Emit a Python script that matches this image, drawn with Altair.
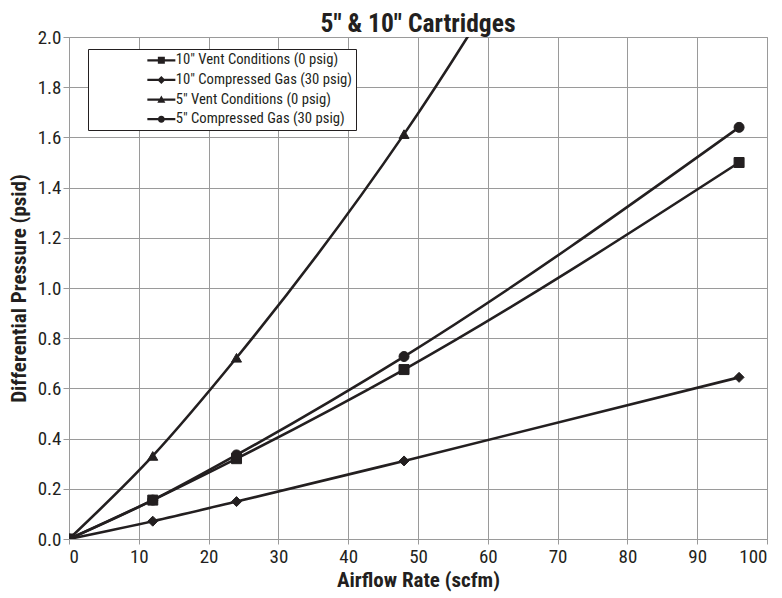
import altair as alt
import pandas as pd

# ---- data ----
series_names = [
    '10" Vent Conditions (0 psig)',
    '10" Compressed Gas (30 psig)',
    '5" Vent Conditions (0 psig)',
    '5" Compressed Gas (30 psig)',
]
airflow = [0, 12, 24, 48, 96]
vent_10 = [0.0, 0.155, 0.32, 0.675, 1.50]
comp_10 = [0.0, 0.071, 0.149, 0.311, 0.644]
vent_5 = [0.0, 0.331, 0.722, 1.613, 3.9]
comp_5 = [0.0, 0.155, 0.335, 0.727, 1.64]

x_ticks = [0, 10, 20, 30, 40, 50, 60, 70, 80, 90, 100]
y_ticks = [0.0, 0.2, 0.4, 0.6, 0.8, 1.0, 1.2, 1.4, 1.6, 1.8, 2.0]

marker_shapes = ["square", "diamond", "triangle-up", "circle"]
BAR = "M-4,-0.33H4V0.33H-4Z"
legend_shapes = [
    BAR + "M-1,-1H1V1H-1Z",
    BAR + "M-1.15,0L0,-1.15L1.15,0L0,1.15Z",
    BAR + "M-1.15,0.9L0,-1.15L1.15,0.9Z",
    BAR + "M-1,0A1,1 0 1,1 1,0A1,1 0 1,1 -1,0Z",
]

rows = []
for name, vals in zip(series_names, [vent_10, comp_10, vent_5, comp_5]):
    for xv, yv in zip(airflow, vals):
        rows.append({"series": name, "airflow": xv, "dp": yv})
df = pd.DataFrame(rows)

INK = "#231f20"
GRID = "#9a9a9a"
FONT = "Roboto Condensed, Liberation Sans Narrow, DejaVu Sans Condensed, Roboto, sans-serif"

x_enc = alt.X(
    "airflow:Q",
    scale=alt.Scale(domain=[0, 100], nice=False),
    axis=alt.Axis(
        values=x_ticks,
        title="Airflow Rate (scfm)",
        tickSize=5,
        labelPadding=3,
        titlePadding=3,
    ),
)
y_enc = alt.Y(
    "dp:Q",
    scale=alt.Scale(domain=[0, 2.0], nice=False),
    axis=alt.Axis(
        values=y_ticks,
        format=".1f",
        title="Differential Pressure (psid)",
        tickSize=6,
        labelPadding=2,
        titlePadding=8,
    ),
)

base = alt.Chart(df)

lines = base.mark_line(
    color=INK, strokeWidth=2.6, interpolate="monotone", clip=True
).encode(x=x_enc, y=y_enc, detail="series:N")

points = base.mark_point(
    filled=True, fill=INK, stroke=INK, strokeWidth=1, opacity=1, size=100, clip=True
).encode(
    x=x_enc,
    y=y_enc,
    shape=alt.Shape(
        "series:N",
        scale=alt.Scale(domain=series_names, range=marker_shapes),
        legend=None,
    ),
)

legend_layer = base.mark_point(
    filled=True, fill=INK, opacity=0, clip=True
).encode(
    x=x_enc,
    y=y_enc,
    shape=alt.Shape(
        "series:N",
        scale=alt.Scale(domain=series_names, range=legend_shapes),
        legend=alt.Legend(
            title=None,
            orient="none",
            legendX=19,
            legendY=12,
            padding=4,
            strokeColor=INK,
            fillColor="white",
            symbolSize=49,
            symbolOpacity=1,
            symbolFillColor=INK,
            symbolStrokeWidth=0,
            symbolOffset=62,
            labelOffset=7,
            labelFont=FONT,
            labelFontSize=14.7,
            labelColor=INK,
            rowPadding=3.6,
            labelLimit=400,
        ),
    ),
)

chart = (
    alt.layer(lines, points, legend_layer)
    .resolve_scale(shape="independent")
    .properties(
        width=698,
        height=502,
        autosize=alt.AutoSizeParams(type="none"),
        padding={"left": 61, "top": 29, "right": 7, "bottom": 55},
        title=alt.TitleParams(
            '5" & 10" Cartridges',
            font=FONT,
            fontSize=25.5,
            fontWeight="bold",
            color=INK,
            anchor="middle",
            offset=-9,
        ),
    )
    .configure_view(stroke=GRID, strokeWidth=1)
    .configure_axis(
        gridColor=GRID,
        gridWidth=1,
        gridOpacity=1,
        domainColor=GRID,
        tickColor=GRID,
        labelFont=FONT,
        labelFontSize=19,
        labelColor=INK,
        titleFont=FONT,
        titleFontSize=21,
        titleFontWeight="bold",
        titleColor=INK,
    )
)

chart.save("out.html", embed_options={"renderer": "svg", "actions": False})
